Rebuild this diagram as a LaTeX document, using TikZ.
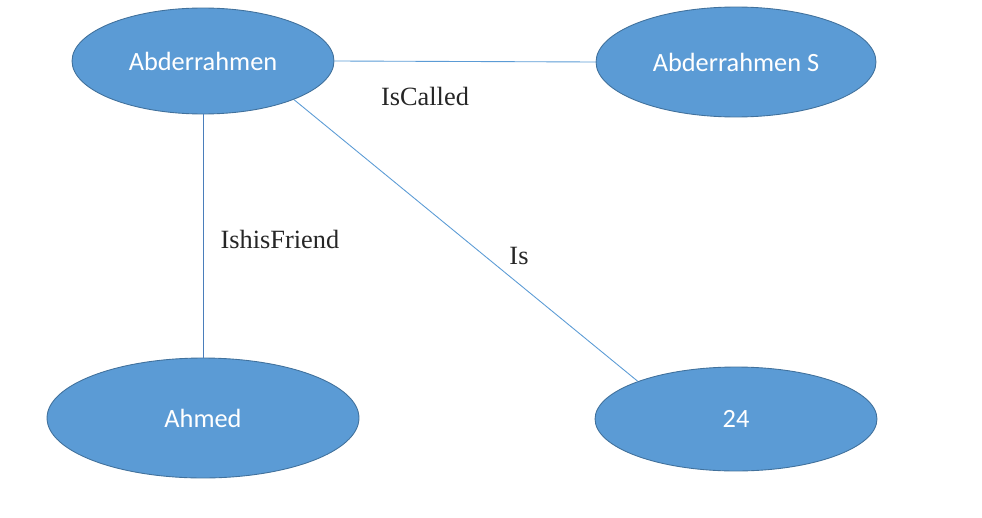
\documentclass[tikz,border=0pt]{standalone}
\usepackage{fontspec}
\setmainfont{Liberation Serif}
\newfontfamily\calib{Carlito}
\usetikzlibrary{shapes.geometric}
\definecolor{ellfill}{HTML}{5B9BD5}
\definecolor{elldraw}{HTML}{41719C}
\definecolor{linklight}{HTML}{5B9BD5}
\definecolor{linkdark}{HTML}{4A7EBB}
\definecolor{lbl}{HTML}{262626}
\begin{document}
\begin{tikzpicture}[x=0.02cm,y=-0.02cm,
  ent/.style={ellipse,draw=elldraw,line width=0.5pt,fill=ellfill,inner sep=0pt,text=white,font=\calib\fontsize{15}{18}\selectfont},
  rel/.style={text=lbl,font=\fontsize{15}{18}\selectfont,inner sep=0pt},
  link/.style={draw=linklight,line width=0.5pt}]
\useasboundingbox (0,0) rectangle (982,517);
\node[ent,minimum width=5.24cm,minimum height=2.12cm] (abd) at (203,61) {Abderrahmen};
\node[ent,minimum width=5.6cm,minimum height=2.2cm] (abds) at (736,62) {Abderrahmen S};
\node[ent,minimum width=6.24cm,minimum height=2.4cm] (ahmed) at (203,418) {Ahmed};
\node[ent,minimum width=5.64cm,minimum height=2.08cm] (age) at (736,419) {24};
\draw[link] (abd.east) -- (abds.west);
\draw[link,draw=linkdark] (abd.south) -- (ahmed.north);
\draw[link] (abd.-23.4) -- (age.159);
\node[rel] (l1) at (425,96) {IsCalled};
\node[rel] (l2) at (280,239) {IshisFriend};
\node[rel] (l3) at (519,256) {Is};
\end{tikzpicture}
\end{document}
